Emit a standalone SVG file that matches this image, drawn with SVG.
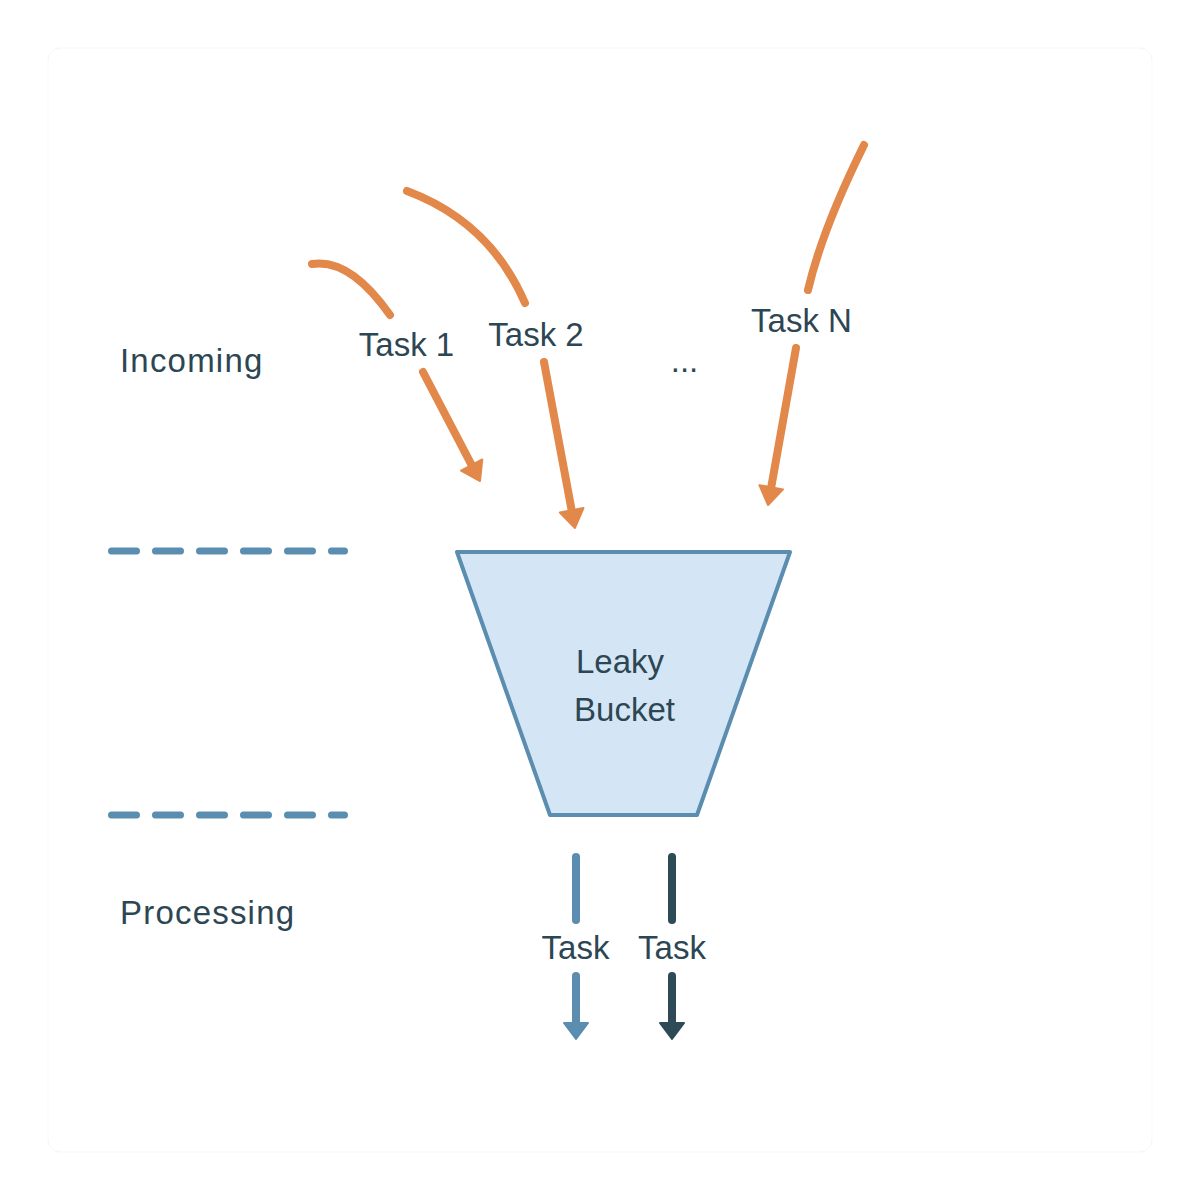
<svg xmlns="http://www.w3.org/2000/svg" width="1200" height="1200" viewBox="0 0 1200 1200">
<defs>
<style>
text{font-family:"Liberation Sans",Arial,sans-serif;font-size:33px;fill:#2D4653}
.mid{text-anchor:middle}
.wide{letter-spacing:1.2px}
.inc{fill:none;stroke:#E2884A;stroke-width:8;stroke-linecap:round}
.dash{fill:none;stroke:#5A8DB0;stroke-width:7;stroke-linecap:round;stroke-dasharray:25 19}
.outb{fill:none;stroke:#5A8DB0;stroke-width:8;stroke-linecap:round}
.outd{fill:none;stroke:#2E4A56;stroke-width:8;stroke-linecap:round}
</style>
<marker id="ao" markerUnits="userSpaceOnUse" markerWidth="22" markerHeight="28" refX="4" refY="12" orient="auto" overflow="visible">
<path d="M0,0 L18,12 L0,24 z" fill="#E2884A" stroke="#E2884A" stroke-width="2" stroke-linejoin="round"/>
</marker>
<marker id="ab" markerUnits="userSpaceOnUse" markerWidth="22" markerHeight="28" refX="4" refY="12" orient="auto" overflow="visible">
<path d="M0,0 L16,12 L0,24 z" fill="#5A8DB0" stroke="#5A8DB0" stroke-width="2" stroke-linejoin="round"/>
</marker>
<marker id="ad" markerUnits="userSpaceOnUse" markerWidth="22" markerHeight="28" refX="4" refY="12" orient="auto" overflow="visible">
<path d="M0,0 L16,12 L0,24 z" fill="#2E4A56" stroke="#2E4A56" stroke-width="2" stroke-linejoin="round"/>
</marker>
</defs>
<rect x="0" y="0" width="1200" height="1200" fill="#ffffff"/>
<rect x="48" y="48" width="1104" height="1104" rx="12" fill="none" stroke="#f3f7fb" stroke-width="1"/>

<g id="dividers">
<line class="dash" x1="111.5" y1="551" x2="344.5" y2="551"/>
<line class="dash" x1="111.5" y1="815" x2="344.5" y2="815"/>
</g>

<g id="label-incoming"><text class="wide" x="120" y="372">Incoming</text></g>
<g id="label-processing"><text class="wide" x="120" y="924">Processing</text></g>

<g id="bucket">
<path d="M457,552 L790,552 L697,815 L550,815 Z" fill="#D4E6F5" stroke="#5A8DB0" stroke-width="4" stroke-linejoin="round"/>
<text class="mid" x="620" y="673">Leaky</text>
<text class="mid" x="624.5" y="721">Bucket</text>
</g>

<g id="task1"><text class="mid" x="406.5" y="356">Task 1</text></g>
<g id="task2"><text class="mid" x="536" y="346">Task 2</text></g>
<g id="ellipsis"><text class="mid" x="684.5" y="372">...</text></g>
<g id="taskN"><text class="mid" x="801.5" y="332">Task N</text></g>
<g id="out1"><text class="mid" x="575.5" y="959">Task</text></g>
<g id="out2"><text class="mid" x="672" y="959">Task</text></g>

<g id="connectors">
<path class="inc" d="M312,264 Q350,258 390,315"/>
<path class="inc" d="M423,372 L473.5,468.6" marker-end="url(#ao)"/>
<path class="inc" d="M407,191 Q490,222 525,303"/>
<path class="inc" d="M544,362 L572.4,514.2" marker-end="url(#ao)"/>
<path class="inc" d="M864,145 Q822,230 808,290"/>
<path class="inc" d="M796,348 L770.5,491.2" marker-end="url(#ao)"/>
<path class="outb" d="M576,857 L576,920"/>
<path class="outb" d="M576,976 L576,1027" marker-end="url(#ab)"/>
<path class="outd" d="M672,857 L672,920"/>
<path class="outd" d="M672,976 L672,1027" marker-end="url(#ad)"/>
</g>
</svg>
